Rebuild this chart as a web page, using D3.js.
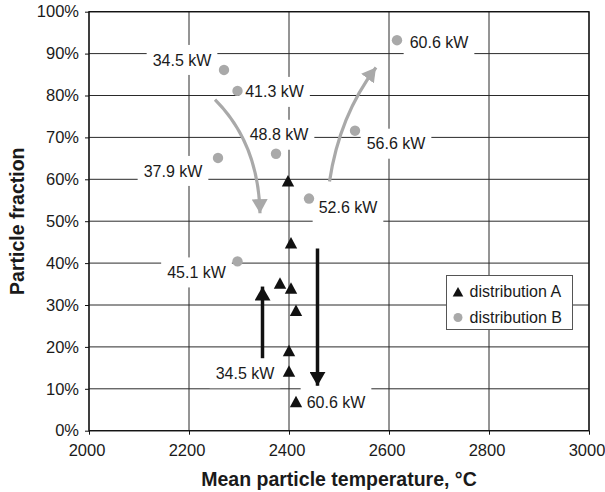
<!DOCTYPE html>
<html>
<head>
<meta charset="utf-8">
<script src="https://cdn.jsdelivr.net/npm/d3@7"></script>
<style>
  body { margin: 0; background: #fff; }
  svg { display: block; font-family: "Liberation Sans", Arial, Helvetica, sans-serif; }
</style>
</head>
<body>
<svg id="chart" width="605" height="492"></svg>
<script>
// ---- data ----
const xTicks = [2000, 2200, 2400, 2600, 2800, 3000];
const yTicks = [0, 0.1, 0.2, 0.3, 0.4, 0.5, 0.6, 0.7, 0.8, 0.9, 1.0];

// distribution A (triangles): mean temperature (°C) and particle fraction
const tempA = [2398, 2404, 2382, 2404, 2414, 2400, 2400, 2414];
const fracA = [0.596, 0.448, 0.352, 0.340, 0.287, 0.191, 0.142, 0.069];
// labelled points of distribution A (index into the arrays above)
const labelIndexA = [6, 7];
const labelTextA = ["34.5 kW", "60.6 kW"];

// distribution B (circles)
const powerB = ["34.5 kW", "41.3 kW", "37.9 kW", "48.8 kW", "52.6 kW", "56.6 kW", "60.6 kW", "45.1 kW"];
const tempB = [2270, 2297, 2258, 2374, 2440, 2532, 2616, 2297];
const fracB = [0.861, 0.811, 0.651, 0.661, 0.554, 0.716, 0.932, 0.404];

// trend arrows (data coordinates)
const grayArrowFrom = [[2252, 0.790], [2481, 0.595]];
const grayArrowVia  = [[2339, 0.686], [2501, 0.753]];
const grayArrowTo   = [[2342, 0.519], [2574, 0.867]];
const blackArrowX    = [2347, 2457];
const blackArrowFrom = [0.173, 0.435];
const blackArrowTo   = [0.344, 0.107];

const legendNames = ["distribution A", "distribution B"];

// ---- layout ----
const W = 605, H = 492;
const plot = { left: 89, right: 589, top: 11.7, bottom: 430.7 };
// label placement relative to its point, in pixels
const labelOffsetB = [[-42, -10], [37, 1], [-45, 13], [3, -19], [39, 9], [41, 13], [42, 2], [-41, 11]];
const labelOffsetA = [[-44, 2], [40, 1]];

const gridColor = "#2a2a2a";
const grayMark = "#a9a9a9";
const black = "#111";

const svg = d3.select("#chart");
svg.append("rect").attr("width", W).attr("height", H).attr("fill", "#fff");

const x = d3.scaleLinear().domain([2000, 3000]).range([plot.left, plot.right]);
const y = d3.scaleLinear().domain([0, 1]).range([plot.bottom, plot.top]);

// grid
const grid = svg.append("g");
grid.selectAll("line.h").data(yTicks).join("line")
  .attr("x1", plot.left).attr("x2", plot.right)
  .attr("y1", d => y(d)).attr("y2", d => y(d))
  .attr("stroke", gridColor).attr("stroke-width", 1);
grid.selectAll("line.v").data(xTicks).join("line")
  .attr("y1", plot.top).attr("y2", plot.bottom)
  .attr("x1", d => x(d)).attr("x2", d => x(d))
  .attr("stroke", gridColor).attr("stroke-width", 1);

// axes
const xAxis = d3.axisBottom(x).tickValues(xTicks).tickSize(4).tickPadding(6).tickFormat(d3.format("d"));
const yAxis = d3.axisLeft(y).tickValues(yTicks).tickSize(4).tickPadding(6).tickFormat(d3.format(".0%"));

const gx = svg.append("g").attr("transform", `translate(0,${plot.bottom})`).call(xAxis);
const gy = svg.append("g").attr("transform", `translate(${plot.left},0)`).call(yAxis);
[gx, gy].forEach(g => {
  g.select(".domain").remove();
  g.selectAll(".tick line").attr("stroke", black).attr("stroke-width", 1);
  g.selectAll(".tick text").attr("fill", "#1a1a1a").style("font-size", "16.5px")
    .style("font-family", "'Liberation Sans', Arial, sans-serif");
});
gx.selectAll(".tick text").attr("dy", "0.95em").attr("dx", -2.5);

// plot frame
svg.append("rect")
  .attr("x", plot.left).attr("y", plot.top)
  .attr("width", plot.right - plot.left).attr("height", plot.bottom - plot.top)
  .attr("fill", "none").attr("stroke", black).attr("stroke-width", 1.3);

// axis titles
svg.append("text")
  .attr("x", (plot.left + plot.right) / 2).attr("y", 479)
  .attr("text-anchor", "middle").attr("dy", "0.35em")
  .style("font-size", "19.5px").style("font-weight", "bold").attr("fill", "#1a1a1a")
  .text("Mean particle temperature, °C");
svg.append("text")
  .attr("transform", `translate(17,${(plot.top + plot.bottom) / 2}) rotate(-90)`)
  .attr("text-anchor", "middle").attr("dy", "0.35em")
  .style("font-size", "19.5px").style("font-weight", "bold").attr("fill", "#1a1a1a")
  .text("Particle fraction");

// data labels with white backing boxes
const labels = [];
powerB.forEach((t, i) => labels.push({
  text: t, cx: x(tempB[i]) + labelOffsetB[i][0], cy: y(fracB[i]) + labelOffsetB[i][1]
}));
labelIndexA.forEach((k, j) => labels.push({
  text: labelTextA[j], cx: x(tempA[k]) + labelOffsetA[j][0], cy: y(fracA[k]) + labelOffsetA[j][1]
}));

const boxLayer = svg.append("g");
const markLayer = svg.append("g");
const textLayer = svg.append("g");

const labelTexts = textLayer.selectAll("text").data(labels).join("text")
  .attr("x", d => d.cx).attr("y", d => d.cy)
  .attr("text-anchor", "middle").attr("dy", "0.35em")
  .style("font-size", "16px").attr("fill", "#1a1a1a")
  .text(d => d.text);
labelTexts.each(function (d) { d.w = this.getComputedTextLength(); });
boxLayer.selectAll("rect").data(labels).join("rect")
  .attr("x", d => d.cx - d.w / 2 - 6).attr("y", d => d.cy - 15)
  .attr("width", d => d.w + 12).attr("height", 30)
  .attr("fill", "#fff");

// arrow heads
const defs = svg.append("defs");
function head(id, color) {
  defs.append("marker").attr("id", id)
    .attr("viewBox", "0 0 14 16").attr("refX", 14).attr("refY", 8)
    .attr("markerUnits", "userSpaceOnUse").attr("markerWidth", 14).attr("markerHeight", 16)
    .attr("orient", "auto")
    .append("path").attr("d", "M0,0L14,8L0,16Z").attr("fill", color);
}
head("headGray", grayMark);
head("headBlack", black);

// curved gray trend arrows
grayArrowFrom.forEach((p, i) => {
  const path = d3.path();
  path.moveTo(x(p[0]), y(p[1]));
  path.quadraticCurveTo(x(grayArrowVia[i][0]), y(grayArrowVia[i][1]), x(grayArrowTo[i][0]), y(grayArrowTo[i][1]));
  markLayer.append("path").attr("d", path.toString())
    .attr("fill", "none").attr("stroke", grayMark).attr("stroke-width", 3.2)
    .attr("marker-end", "url(#headGray)");
});

// straight black trend arrows
markLayer.selectAll("line.arrow").data(blackArrowX).join("line")
  .attr("x1", d => x(d)).attr("x2", d => x(d))
  .attr("y1", (d, i) => y(blackArrowFrom[i])).attr("y2", (d, i) => y(blackArrowTo[i]))
  .attr("stroke", black).attr("stroke-width", 3.5)
  .attr("marker-end", "url(#headBlack)");

// distribution B circles
markLayer.selectAll("circle.b").data(tempB).join("circle")
  .attr("cx", d => x(d)).attr("cy", (d, i) => y(fracB[i])).attr("r", 5.2)
  .attr("fill", grayMark);

// distribution A triangles
const tri = "M0,-6L6.2,5.5L-6.2,5.5Z";
markLayer.selectAll("path.a").data(tempA).join("path")
  .attr("transform", (d, i) => `translate(${x(d)},${y(fracA[i])})`)
  .attr("d", tri).attr("fill", black);

// legend
const lg = svg.append("g").attr("transform", "translate(446.5,275.5)");
lg.append("rect").attr("width", 126).attr("height", 54)
  .attr("fill", "#fff").attr("stroke", "#555").attr("stroke-width", 1);
lg.append("path").attr("transform", "translate(11.5,16.5)").attr("d", "M0,-5L5.3,4.5L-5.3,4.5Z").attr("fill", black);
lg.append("circle").attr("cx", 11.5).attr("cy", 42).attr("r", 4.5).attr("fill", grayMark);
lg.selectAll("text").data(legendNames).join("text")
  .attr("x", 23).attr("y", (d, i) => 16 + i * 25.5).attr("dy", "0.35em")
  .style("font-size", "16px").attr("fill", "#1a1a1a")
  .text(d => d);
</script>
</body>
</html>
